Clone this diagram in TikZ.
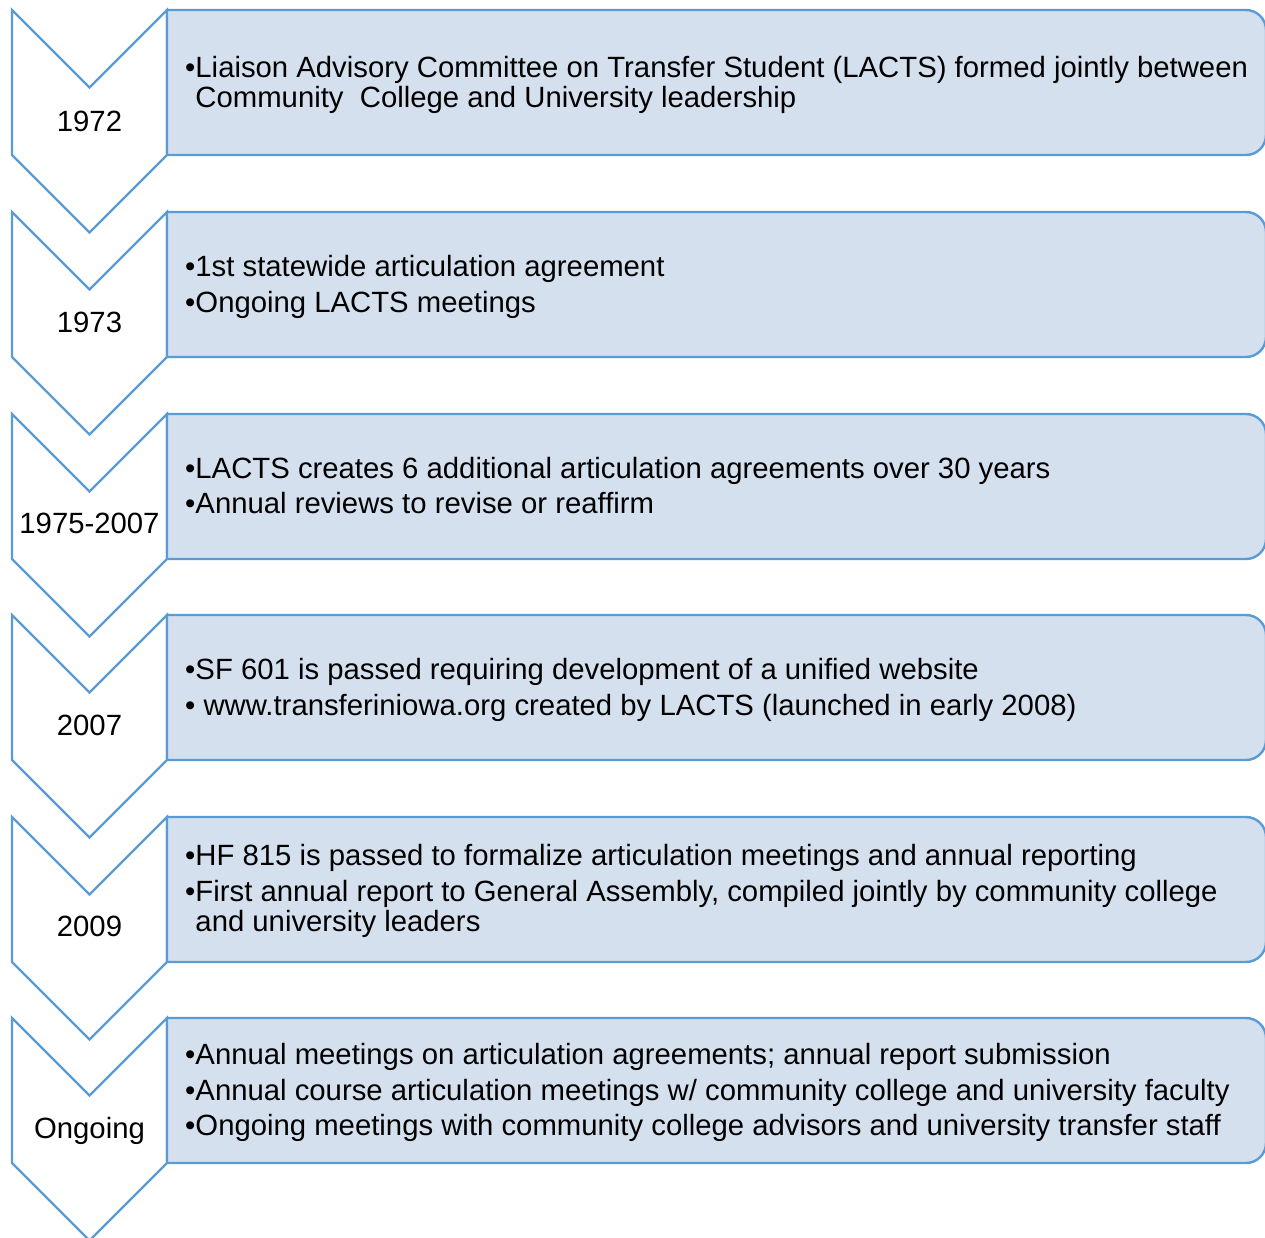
\documentclass[tikz,border=0pt]{standalone}
\usepackage{fontspec}
\setmainfont{Liberation Sans}
\definecolor{edgeblue}{HTML}{5B9BD5}
\definecolor{boxfill}{HTML}{D5E0EE}
\begin{document}
\begin{tikzpicture}[x=1pt,y=-1pt,
  chev/.style={draw=edgeblue,fill=white,line width=2.4pt,line join=miter},
  panel/.style={draw=edgeblue,fill=boxfill,line width=2.4pt},
  txt/.style={inner sep=0pt,anchor=base west,font=\fontsize{29.3}{30}\selectfont},
  yr/.style={inner sep=0pt,anchor=base,font=\fontsize{29.3}{30}\selectfont}]
\useasboundingbox (0,0) rectangle (1265,1237);
\foreach \t in {10,212,414,615,817,1018}{
  \draw[chev] (12,\t) -- (89.5,\t+77.5) -- (167,\t) -- (167,\t+145) -- (89.5,\t+222.5) -- (12,\t+145) -- cycle;
  \draw[panel] (167,\t) -- (1246,\t) arc[start angle=-90,end angle=0,radius=20] -- (1266,\t+125) arc[start angle=0,end angle=90,radius=20] -- (167,\t+145) -- cycle;
}
% year labels
\node[yr] (y1) at (89.5,131) {1972};
\node[yr] (y2) at (89.5,332) {1973};
\node[yr] (y3) at (89.5,533) {1975-2007};
\node[yr] (y4) at (89.5,735) {2007};
\node[yr] (y5) at (89.5,936) {2009};
\node[yr] (y6) at (89.5,1138) {Ongoing};
% box 1
\node[txt] (a1) at (185,77) {•Liaison Advisory Committee on Transfer Student (LACTS) formed jointly between};
\node[txt] (a2) at (185,107) {\hphantom{•}Community\ \ College and University leadership};
% box 2
\node[txt] (b1) at (185,276) {•1st statewide articulation agreement};
\node[txt] (b2) at (185,312) {•Ongoing LACTS meetings};
% box 3
\node[txt] (c1) at (185,478) {•LACTS creates 6 additional articulation agreements over 30 years};
\node[txt] (c2) at (185,513) {•Annual reviews to revise or reaffirm};
% box 4
\node[txt] (d1) at (185,679) {•SF 601 is passed requiring development of a unified website};
\node[txt] (d2) at (185,715) {• www.transferiniowa.org created by LACTS (launched in early 2008)};
% box 5
\node[txt] (e1) at (185,865) {•HF 815 is passed to formalize articulation meetings and annual reporting};
\node[txt] (e2) at (185,901) {•First annual report to General Assembly, compiled jointly by community college};
\node[txt] (e3) at (185,931) {\hphantom{•}and university leaders};
% box 6
\node[txt] (f1) at (185,1064) {•Annual meetings on articulation agreements; annual report submission};
\node[txt] (f2) at (185,1100) {•Annual course articulation meetings w/ community college and university faculty};
\node[txt] (f3) at (185,1135) {•Ongoing meetings with community college advisors and university transfer staff};
\end{tikzpicture}
\end{document}
